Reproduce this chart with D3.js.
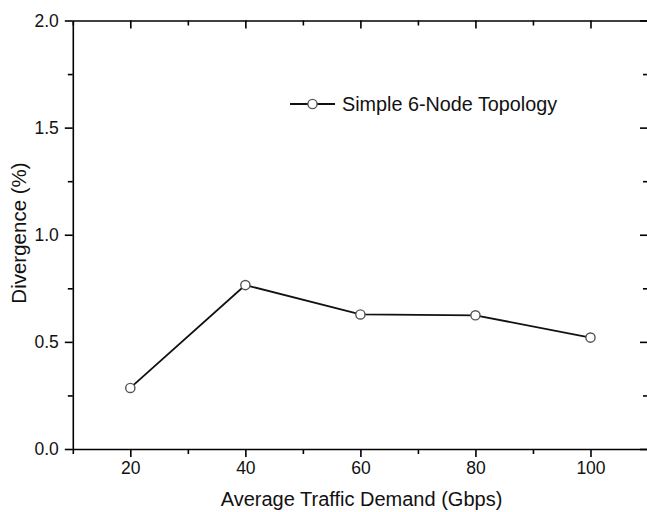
<!DOCTYPE html>
<html>
<head>
<meta charset="utf-8">
<script src="https://cdn.jsdelivr.net/npm/d3@7"></script>
<style>
  html, body { margin: 0; padding: 0; background: #fff; }
  svg { display: block; font-family: "Liberation Sans", Arial, sans-serif; }
</style>
</head>
<body>
<svg id="chart" width="647" height="512"></svg>
<script>
// Divergence of the simple 6-node topology versus average traffic demand
const demand = [20, 40, 60, 80, 100];
const divergence = [0.285, 0.765, 0.628, 0.624, 0.52];
const xTicks = [20, 40, 60, 80, 100];
const yTicks = [0.0, 0.5, 1.0, 1.5, 2.0];
const seriesName = "Simple 6-Node Topology";

const svg = d3.select("#chart");
const margin = { left: 72.8, top: 20.5, right: -1, bottom: 63 };
const W = 647, H = 512;
const innerW = W - margin.left - margin.right;
const innerH = H - margin.top - margin.bottom;

const x = d3.scaleLinear().domain([10, 110]).range([0, innerW]);
const y = d3.scaleLinear().domain([0, 2]).range([innerH, 0]);

const g = svg.append("g").attr("transform", `translate(${margin.left},${margin.top})`);

const minorX = d3.range(10, 111, 10).filter(v => !xTicks.includes(v));
const minorY = d3.range(0, 2.01, 0.25).filter(v => !yTicks.some(t => Math.abs(t - v) < 1e-6));

function styleAxis(sel) {
  sel.select(".domain").attr("stroke", "#000").attr("stroke-width", 1.6);
  sel.selectAll(".tick line").attr("stroke", "#000").attr("stroke-width", 1.6);
  sel.selectAll(".tick text").attr("font-size", 17.5).attr("fill", "#111")
     .attr("font-family", "'Liberation Sans', Arial, sans-serif");
}
function minorTicks(s) {
  s.select(".domain").remove();
  s.selectAll("line").attr("stroke", "#000").attr("stroke-width", 1.6);
}

// Bottom axis: major ticks with labels, minor ticks between
const bottomAxis = g.append("g").attr("transform", `translate(0,${innerH})`)
  .call(d3.axisBottom(x).tickValues(xTicks).tickSize(8).tickSizeOuter(0).tickPadding(5).tickFormat(d3.format("d")));
styleAxis(bottomAxis);
g.append("g").attr("transform", `translate(0,${innerH})`)
  .call(d3.axisBottom(x).tickValues(minorX).tickSize(5).tickFormat(""))
  .call(minorTicks);

// Left axis
const leftAxis = g.append("g")
  .call(d3.axisLeft(y).tickValues(yTicks).tickSize(8).tickSizeOuter(0).tickPadding(6).tickFormat(d3.format(".1f")));
styleAxis(leftAxis);
g.append("g")
  .call(d3.axisLeft(y).tickValues(minorY).tickSize(5).tickFormat(""))
  .call(minorTicks);

// Top axis: inward ticks, no labels
const topAxis = g.append("g")
  .call(d3.axisBottom(x).tickValues(xTicks).tickSize(8).tickSizeOuter(0).tickFormat(""));
styleAxis(topAxis);
g.append("g")
  .call(d3.axisBottom(x).tickValues(minorX).tickSize(5).tickFormat(""))
  .call(minorTicks);

// Right axis: inward ticks, no labels
const rightAxis = g.append("g").attr("transform", `translate(${innerW},0)`)
  .call(d3.axisLeft(y).tickValues(yTicks).tickSize(8).tickSizeOuter(0).tickFormat(""));
styleAxis(rightAxis);
g.append("g").attr("transform", `translate(${innerW},0)`)
  .call(d3.axisLeft(y).tickValues(minorY).tickSize(5).tickFormat(""))
  .call(minorTicks);

// Series line and markers
const pts = demand.map((d, i) => ({ x: d, y: divergence[i] }));
g.append("path").datum(pts)
  .attr("fill", "none").attr("stroke", "#111").attr("stroke-width", 1.8)
  .attr("d", d3.line().x(d => x(d.x)).y(d => y(d.y)));
g.selectAll("circle.pt").data(pts).join("circle").attr("class", "pt")
  .attr("cx", d => x(d.x)).attr("cy", d => y(d.y)).attr("r", 4.6)
  .attr("fill", "#fff").attr("stroke", "#555").attr("stroke-width", 1.4);

// Legend
const lg = svg.append("g").attr("transform", "translate(290,104)");
lg.append("line").attr("x1", 0).attr("x2", 45).attr("y1", 0).attr("y2", 0)
  .attr("stroke", "#111").attr("stroke-width", 1.8);
lg.append("circle").attr("cx", 22.5).attr("cy", 0).attr("r", 4.6)
  .attr("fill", "#fff").attr("stroke", "#555").attr("stroke-width", 1.4);
lg.append("text").attr("x", 52).attr("y", 6.5).attr("font-size", 19.8).attr("fill", "#111")
  .text(seriesName);

// Axis titles
svg.append("text").attr("x", 361.5).attr("y", 505.5).attr("text-anchor", "middle")
  .attr("font-size", 20).attr("fill", "#111").text("Average Traffic Demand (Gbps)");
svg.append("text").attr("transform", `translate(25.5,233) rotate(-90)`).attr("text-anchor", "middle")
  .attr("font-size", 20.5).attr("fill", "#111").text("Divergence (%)");
</script>
</body>
</html>
